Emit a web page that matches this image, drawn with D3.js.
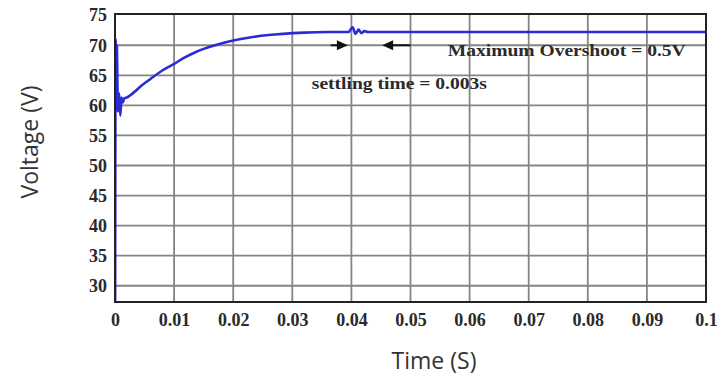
<!DOCTYPE html>
<html>
<head>
<meta charset="utf-8">
<script src="https://cdn.jsdelivr.net/npm/d3@7"></script>
<style>
  body { margin: 0; background: #fff; }
  .tick-lab { font-family: "Liberation Serif", "DejaVu Serif", serif; font-weight: bold; font-size: 18px; fill: #2a2a2a; }
  .note { font-family: "Liberation Serif", serif; font-weight: bold; font-size: 16px; fill: #2a2a2a; }
  .title { font-family: "Open Sans", "Noto Sans", sans-serif; font-size: 23px; fill: #333; }
</style>
</head>
<body>
<script>
// time (s) and output voltage (V)
var time = [0, 0.0001, 0.0002, 0.0003, 0.0005, 0.0007, 0.0009, 0.0011, 0.0013, 0.0016,
  0.002, 0.003, 0.0045, 0.006, 0.008, 0.01, 0.0115, 0.0135, 0.015, 0.0172, 0.02, 0.0228, 0.026,
  0.0284, 0.032, 0.036, 0.0395, 0.0402, 0.0407, 0.0412, 0.0417, 0.0422, 0.0428, 0.1]
var voltage = [0, 71, 66, 70, 59, 62, 58.3, 61.3, 60.5, 61.2,
  61.3, 62.0, 63.3, 64.4, 65.8, 66.9, 67.8, 68.8, 69.4, 70.1, 70.8, 71.3, 71.7,
  71.9, 72.1, 72.2, 72.2, 73.0, 71.9, 72.6, 72.0, 72.35, 72.2, 72.2]

var xTicks = [0, 0.01, 0.02, 0.03, 0.04, 0.05, 0.06, 0.07, 0.08, 0.09, 0.1]
var xTickLabels = ["0", "0.01", "0.02", "0.03", "0.04", "0.05", "0.06", "0.07", "0.08", "0.09", "0.1"]
var yTicks = [30, 35, 40, 45, 50, 55, 60, 65, 70, 75]

// annotations: [t, v] in data units
var notes = [
  {text: "Maximum Overshoot = 0.5V", t: 0.0563, v: 68.2, len: 238},
  {text: "settling time = 0.003s", t: 0.0333, v: 62.7, len: 175}
]
var arrows = [
  {from: [0.0365, 70.0], to: [0.0394, 70.0]},
  {from: [0.0500, 70.0], to: [0.0452, 70.0]}
]

var width = 718, height = 375
var x = d3.scaleLinear().domain([0, 0.1]).range([115, 706])
var y = d3.scaleLinear().domain([27.3, 75.2]).range([302, 14])

var svg = d3.select("body").append("svg")
    .attr("width", width)
    .attr("height", height)

svg.append("defs").append("clipPath").attr("id", "plot")
  .append("rect")
    .attr("x", x(0)).attr("y", y(75.2))
    .attr("width", x(0.1) - x(0)).attr("height", y(27.3) - y(75.2))

// grid
svg.append("g").selectAll("line")
    .data(xTicks.slice(1, -1))
  .enter().append("line")
    .attr("x1", d => x(d)).attr("x2", d => x(d))
    .attr("y1", y(75.2)).attr("y2", y(27.3))
    .attr("stroke", "#858585").attr("stroke-width", 1.8)

svg.append("g").selectAll("line")
    .data(yTicks.filter(d => d < 75))
  .enter().append("line")
    .attr("x1", x(0)).attr("x2", x(0.1))
    .attr("y1", d => y(d)).attr("y2", d => y(d))
    .attr("stroke", "#858585").attr("stroke-width", 1.8)

// axes (labels only; ticks hidden)
var xAxis = svg.append("g")
    .attr("transform", "translate(0," + y(27.3) + ")")
    .call(d3.axisBottom(x).tickValues(xTicks).tickSize(0).tickPadding(11)
      .tickFormat((d, i) => xTickLabels[i]))
xAxis.select(".domain").remove()
xAxis.selectAll("text").attr("class", "tick-lab").attr("fill", null)

var yAxis = svg.append("g")
    .attr("transform", "translate(" + (x(0) - 8) + ",0)")
    .call(d3.axisLeft(y).tickValues(yTicks).tickSize(0).tickPadding(0))
yAxis.select(".domain").remove()
yAxis.selectAll("text").attr("class", "tick-lab").attr("fill", null)

// signal
var line = d3.line()
    .x((d, i) => x(time[i]))
    .y(d => y(d))
    .curve(d3.curveMonotoneX)

svg.append("path")
    .datum(voltage)
    .attr("clip-path", "url(#plot)")
    .attr("d", line)
    .attr("fill", "none")
    .attr("stroke", "#2b2bd6")
    .attr("stroke-width", 2.6)
    .attr("stroke-linejoin", "round")

// frame
svg.append("rect")
    .attr("x", x(0)).attr("y", y(75.2))
    .attr("width", x(0.1) - x(0)).attr("height", y(27.3) - y(75.2))
    .attr("fill", "none").attr("stroke", "#222").attr("stroke-width", 2)

// arrows
arrows.forEach(function(a) {
  var x1 = x(a.from[0]), x2 = x(a.to[0]), yy = y(a.to[1])
  var dir = x2 > x1 ? 1 : -1
  svg.append("line")
      .attr("x1", x1).attr("x2", x2 - dir * 8).attr("y1", yy).attr("y2", yy)
      .attr("stroke", "#111").attr("stroke-width", 2)
  svg.append("path")
      .attr("d", "M" + x2 + "," + yy + "L" + (x2 - dir * 11) + "," + (yy - 5) +
        "L" + (x2 - dir * 11) + "," + (yy + 5) + "Z")
      .attr("fill", "#111")
})

svg.selectAll(".note")
    .data(notes)
  .enter().append("text")
    .attr("class", "note")
    .attr("x", d => x(d.t))
    .attr("y", d => y(d.v))
    .attr("textLength", d => d.len)
    .attr("lengthAdjust", "spacingAndGlyphs")
    .text(d => d.text)

// axis titles
svg.append("text")
    .attr("class", "title")
    .attr("text-anchor", "middle")
    .attr("x", 434).attr("y", 369)
    .text("Time (S)")

svg.append("text")
    .attr("class", "title")
    .attr("text-anchor", "middle")
    .attr("transform", "translate(38,142) rotate(-90)")
    .text("Voltage (V)")
</script>
</body>
</html>
